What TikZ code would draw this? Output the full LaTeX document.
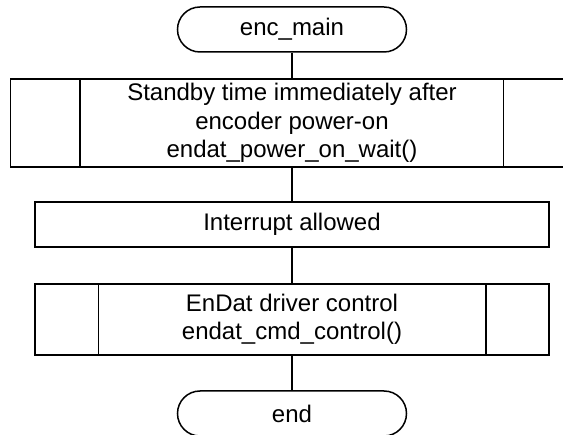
\documentclass[tikz,border=0pt]{standalone}
\usepackage{fontspec}
\setmainfont{Liberation Sans}
\begin{document}
\begin{tikzpicture}[x=1pt,y=-1pt,line width=1.5pt,
    term/.style={draw,rounded corners=22.5pt,minimum width=229pt,minimum height=45pt,inner sep=0pt},
    proc/.style={draw,align=center,inner sep=0pt,minimum width=514pt}]
      \useasboundingbox (0,0) rectangle (563,435);
      \fontsize{24}{28.5}\selectfont
      \node[term] (start) at (292,29.5) {enc\_main};
      \node[proc,minimum width=563pt,minimum height=88pt] (wait) at (292,123)
        {Standby time immediately after\\encoder power-on\\endat\_power\_on\_wait()};
      \node[proc,minimum height=45pt] (intr) at (292,224.5) {Interrupt allowed};
      \node[proc,minimum height=71pt] (ctrl) at (292,319.5)
        {EnDat driver control\\endat\_cmd\_control()};
      \node[term] (end) at (292,413.5) {end};
      % side bars of the subroutine boxes
      \draw ([xshift=70pt]wait.north west) -- ([xshift=70pt]wait.south west);
      \draw ([xshift=-71pt]wait.north east) -- ([xshift=-71pt]wait.south east);
      \draw ([xshift=64pt]ctrl.north west) -- ([xshift=64pt]ctrl.south west);
      \draw ([xshift=-64pt]ctrl.north east) -- ([xshift=-64pt]ctrl.south east);
      \begin{scope}[-]
        \draw (start) to (wait);
        \draw (wait) to (intr);
        \draw (intr) to (ctrl);
        \draw (ctrl) to (end);
      \end{scope}
    \end{tikzpicture}
\end{document}
